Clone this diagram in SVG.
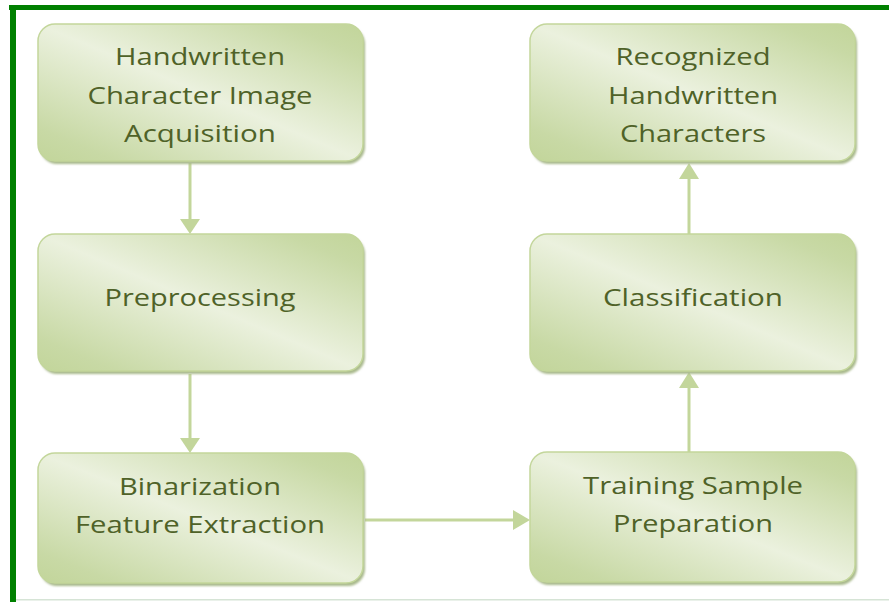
<svg xmlns="http://www.w3.org/2000/svg" width="889" height="602" viewBox="0 0 889 602">
  <style>
    .box { fill: url(#boxFill); stroke: #c3d69b; stroke-width: 1.5; }
    .shadow { fill: #a9b98c; filter: url(#soft); }
    .label { font-family: "Open Sans", "Noto Sans", "Liberation Sans", sans-serif; font-size: 24px; fill: #4f6228; text-anchor: middle; }
    .conn { stroke: #c3d69b; stroke-width: 3; fill: none; }
    .head { fill: #c3d69b; }
  </style>
  <defs>
    <linearGradient id="boxFill" x1="1" y1="0" x2="0" y2="1">
      <stop offset="0" stop-color="#c2d59a"/>
      <stop offset="0.12" stop-color="#c8d9a5"/>
      <stop offset="0.5" stop-color="#ebf1de"/>
      <stop offset="0.88" stop-color="#c8d9a5"/>
      <stop offset="1" stop-color="#c2d59a"/>
    </linearGradient>
    <filter id="soft" x="-5%" y="-5%" width="110%" height="110%">
      <feGaussianBlur stdDeviation="1"/>
    </filter>
  </defs>

  <rect width="889" height="602" fill="#ffffff"/>

  <!-- frame -->
  <rect x="9" y="5" width="880" height="5" fill="#008000"/>
  <rect x="10" y="5" width="6" height="597" fill="#008000"/>
  <rect x="16" y="599" width="873" height="1.5" fill="#d6e4d6"/>

  <!-- connectors -->
  <g id="connectors">
    <line class="conn" x1="190" y1="163" x2="190" y2="220"/>
    <polygon class="head" points="180,219 200,219 190,234"/>
    <line class="conn" x1="190" y1="374" x2="190" y2="439"/>
    <polygon class="head" points="180,438 200,438 190,453"/>
    <line class="conn" x1="365" y1="520" x2="514" y2="520"/>
    <polygon class="head" points="513,510 513,530 530,520"/>
    <line class="conn" x1="689" y1="452" x2="689" y2="387"/>
    <polygon class="head" points="679,388 699,388 689,372"/>
    <line class="conn" x1="689" y1="234" x2="689" y2="178"/>
    <polygon class="head" points="679,179 699,179 689,163"/>
  </g>

  <!-- nodes -->
  <g id="acquisition">
    <rect class="shadow" x="40" y="27" width="325" height="137" rx="17"/>
    <rect class="box" x="38" y="24" width="325" height="137" rx="17"/>
    <text class="label" x="200" y="65" textLength="170" lengthAdjust="spacingAndGlyphs">Handwritten</text>
    <text class="label" x="200" y="104" textLength="225" lengthAdjust="spacingAndGlyphs">Character Image</text>
    <text class="label" x="200" y="142" textLength="152" lengthAdjust="spacingAndGlyphs">Acquisition</text>
  </g>

  <g id="preprocessing">
    <rect class="shadow" x="40" y="237" width="325" height="137" rx="17"/>
    <rect class="box" x="38" y="234" width="325" height="137" rx="17"/>
    <text class="label" x="200" y="306" textLength="191" lengthAdjust="spacingAndGlyphs">Preprocessing</text>
  </g>

  <g id="binarization">
    <rect class="shadow" x="40" y="456" width="325" height="130" rx="17"/>
    <rect class="box" x="38" y="453" width="325" height="130" rx="17"/>
    <text class="label" x="200" y="495" textLength="162" lengthAdjust="spacingAndGlyphs">Binarization</text>
    <text class="label" x="200" y="533" textLength="250" lengthAdjust="spacingAndGlyphs">Feature Extraction</text>
  </g>

  <g id="recognized">
    <rect class="shadow" x="532" y="27" width="325" height="137" rx="17"/>
    <rect class="box" x="530" y="24" width="325" height="137" rx="17"/>
    <text class="label" x="693" y="65" textLength="155" lengthAdjust="spacingAndGlyphs">Recognized</text>
    <text class="label" x="693" y="104" textLength="170" lengthAdjust="spacingAndGlyphs">Handwritten</text>
    <text class="label" x="693" y="142" textLength="146" lengthAdjust="spacingAndGlyphs">Characters</text>
  </g>

  <g id="classification">
    <rect class="shadow" x="532" y="237" width="325" height="137" rx="17"/>
    <rect class="box" x="530" y="234" width="325" height="137" rx="17"/>
    <text class="label" x="693" y="306" textLength="180" lengthAdjust="spacingAndGlyphs">Classification</text>
  </g>

  <g id="training">
    <rect class="shadow" x="532" y="455" width="325" height="130" rx="17"/>
    <rect class="box" x="530" y="452" width="325" height="130" rx="17"/>
    <text class="label" x="693" y="494" textLength="220" lengthAdjust="spacingAndGlyphs">Training Sample</text>
    <text class="label" x="693" y="532" textLength="160" lengthAdjust="spacingAndGlyphs">Preparation</text>
  </g>
</svg>
